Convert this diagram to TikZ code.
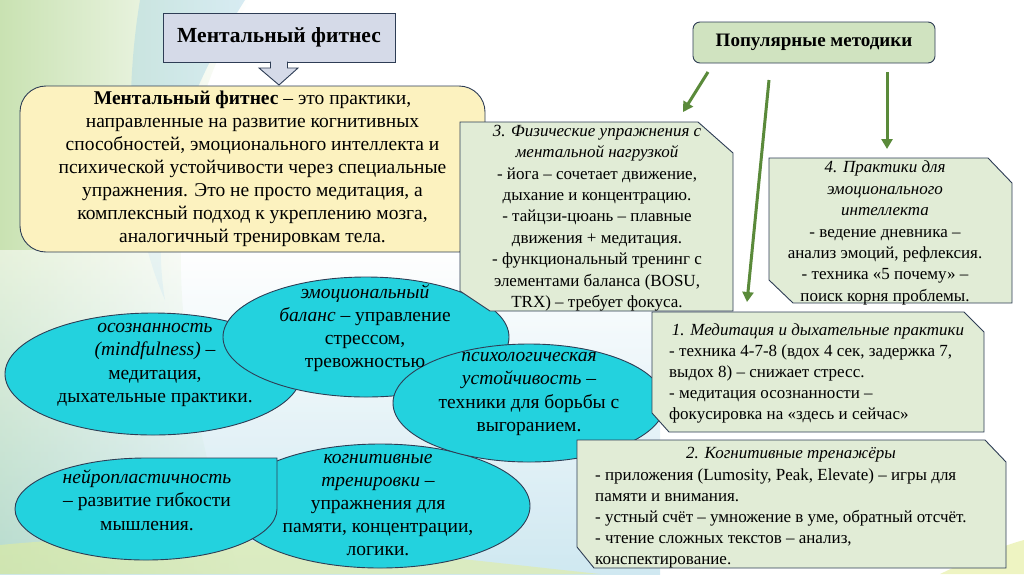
\documentclass[tikz,border=0pt]{standalone}
\usepackage{fontspec}
\setmainfont{Liberation Serif}
\usetikzlibrary{arrows.meta,shapes.geometric}
\definecolor{titlefill}{HTML}{D5DAE8}
\definecolor{edge}{HTML}{2E3D55}
\definecolor{yellowfill}{HTML}{FCF2BF}
\definecolor{greenfill}{HTML}{E1ECD6}
\definecolor{popfill}{HTML}{D0E3C0}
\definecolor{tealfill}{HTML}{23D2DE}
\definecolor{arrowgreen}{HTML}{5A8A3A}
\definecolor{bgG}{HTML}{C9E2B2}
\definecolor{bgB}{HTML}{A9D6E6}
\definecolor{bgY}{HTML}{E3EE9A}
\begin{document}
\begin{tikzpicture}[x=1pt,y=-1pt,
  boxedge/.style={draw=edge,line width=0.9pt},
  titlebox/.style={boxedge,fill=titlefill,minimum width=232,minimum height=49,inner sep=0,font=\fontsize{21.5}{25}\selectfont\bfseries},
  defbox/.style={boxedge,fill=yellowfill,rounded corners=26pt,minimum width=465,minimum height=166,inner sep=0,align=center,font=\fontsize{19.5}{23}\selectfont},
  popbox/.style={boxedge,fill=popfill,rounded corners=7pt,minimum width=242,minimum height=41,inner sep=0,font=\fontsize{19}{22}\selectfont\bfseries},
  snipbox/.style={boxedge,fill=greenfill},
  ell/.style={ellipse,draw=edge,line width=0.9pt,fill=tealfill,inner sep=0},
  etext/.style={inner sep=0,align=center,font=\fontsize{19.5}{23.2}\selectfont},
  btext/.style={inner sep=0,align=center,font=\fontsize{17}{21.4}\selectfont},
  ltext/.style={inner sep=0,align=left,font=\fontsize{17}{21}\selectfont},
  garrow/.style={draw=arrowgreen,line width=3pt,-{Triangle[length=10pt,width=11pt]}}
]
\useasboundingbox (0,0) rectangle (1024,574);
% background
\fill[white] (0,0) rectangle (1024,574);
\shade[left color=bgG, right color=white] (0,0) -- (250,0) .. controls (170,120) and (150,300) .. (240,574) -- (0,574) -- cycle;
\fill[bgB, opacity=0.45] (140,0) -- (245,0) .. controls (175,110) and (150,210) .. (165,300) .. controls (125,210) and (125,90) .. cycle;
\shade[top color=white, bottom color=bgB, opacity=0.55] (0,250) -- (660,250) -- (660,574) -- (0,574) -- cycle;
\fill[bgY, opacity=0.55] (0,545) .. controls (200,525) and (420,555) .. (600,574) -- (0,574) -- cycle;
\fill[bgY, opacity=0.6] (940,574) .. controls (980,555) and (1005,545) .. (1024,540) -- (1024,574) -- cycle;

% definition box and title
\node[defbox] (def) at (252.5,169) {\textbf{Ментальный фитнес} – это практики,\\направленные на развитие когнитивных\\способностей, эмоционального интеллекта и\\психической устойчивости через специальные\\упражнения. Это не просто медитация, а\\комплексный подход к укреплению мозга,\\аналогичный тренировкам тела.};
\node[titlebox] (title) at (279,37.5) {Ментальный фитнес};
\fill[titlefill] (270.5,60.5) -- (270.5,68) -- (259,68) -- (279,85) -- (298,68) -- (287.5,68) -- (287.5,60.5) -- cycle;
\draw[boxedge] (270.5,61.5) -- (270.5,68) -- (259,68) -- (279,85) -- (298,68) -- (287.5,68) -- (287.5,61.5);

% popular methods
\node[popbox] (pop) at (814,42.5) {Популярные методики};

% ellipses
\node[ell,minimum width=296,minimum height=122] (e1) at (153,374) {};
\node[ell,minimum width=286,minimum height=120] (e2) at (366,337) {};
\node[ell,minimum width=300,minimum height=124] (e4) at (380,506) {};
\node[ell,minimum width=272,minimum height=118] (e3) at (529,403) {};
\path[draw=edge,line width=0.9pt,fill=tealfill] (277,458) -- (277,509) arc[start angle=0,end angle=270,x radius=131,y radius=51] -- cycle;
\coordinate (e5) at (146,509);

\node[etext] (t1) at (155,365) {\textit{осознанность}\\\textit{(mindfulness)} –\\медитация,\\дыхательные практики.};
\node[etext] (t2) at (365,328) {\textit{эмоциональный}\\\textit{баланс} – управление\\стрессом,\\тревожностью};
\node[etext] (t3) at (529,394) {\textit{психологическая}\\\textit{устойчивость} –\\техники для борьбы с\\выгоранием.};
\node[etext] (t4) at (378,505) {\textit{когнитивные}\\\textit{тренировки} –\\упражнения для\\памяти, концентрации,\\логики.};
\node[etext] (t5) at (147,500) {\textit{нейропластичность}\\– развитие гибкости\\мышления.};

% snipped boxes
\path[snipbox] (460,122) -- (698,122) -- (733,153) -- (733,311) -- (490,311) -- (460,291) -- cycle;
\node[btext] (b3) at (597,218) {\textit{3. Физические упражнения с}\\\textit{ментальной нагрузкой}\\- йога – сочетает движение,\\дыхание и концентрацию.\\- тайцзи-цюань – плавные\\движения + медитация.\\- функциональный тренинг с\\элементами баланса (BOSU,\\TRX) – требует фокуса.};

\path[snipbox] (769,158) -- (988,158) -- (1012,183) -- (1012,303) -- (793,303) -- (769,280) -- cycle;
\node[btext] (b4) at (885,233) {\textit{4. Практики для}\\\textit{эмоционального}\\\textit{интеллекта}\\- ведение дневника –\\анализ эмоций, рефлексия.\\- техника «5 почему» –\\поиск корня проблемы.};

\path[snipbox] (652,312) -- (964,312) -- (984,332) -- (984,432) -- (669,432) -- (652,413) -- cycle;
\node[ltext,align=center] (b1h) at (818,331) {\textit{1. Медитация и дыхательные практики}};
\node[ltext,anchor=west] (b1t) at (669,383.5) {- техника 4-7-8 (вдох 4 сек, задержка 7,\\выдох 8) – снижает стресс.\\- медитация осознанности –\\фокусировка на «здесь и сейчас»};

\path[snipbox] (577,440) -- (985,440) -- (1006,462) -- (1006,568) -- (594,568) -- (577,547) -- cycle;
\node[ltext,align=center] (b2h) at (791,455) {\textit{2. Когнитивные тренажёры}};
\node[ltext,anchor=west] (b2t) at (595,518) {- приложения (Lumosity, Peak, Elevate) – игры для\\памяти и внимания.\\- устный счёт – умножение в уме, обратный отсчёт.\\- чтение сложных текстов – анализ,\\конспектирование.};

% arrows
\coordinate (a1s) at (708,72);
\coordinate (a1e) at (683,112);
\coordinate (a2s) at (769,80);
\coordinate (a2e) at (747,302);
\coordinate (a3s) at (887,72);
\coordinate (a3e) at (887,149);
\draw[garrow] (a1s) -- (a1e);
\draw[garrow] (a2s) -- (a2e);
\draw[garrow] (a3s) -- (a3e);
\end{tikzpicture}
\end{document}
